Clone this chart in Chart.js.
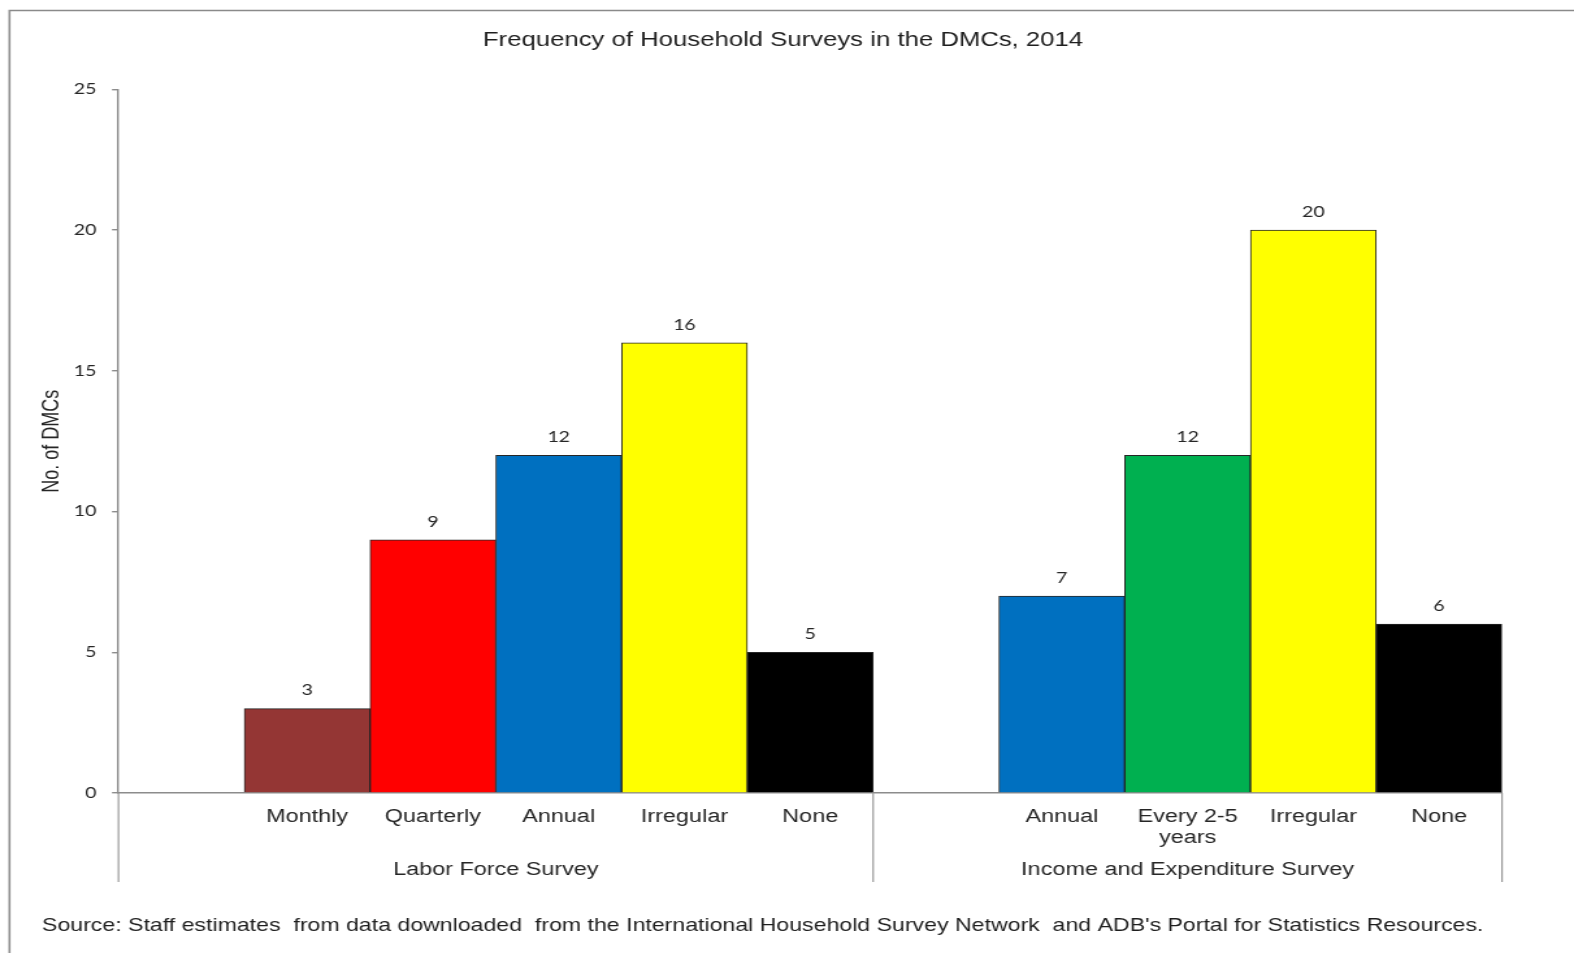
<!DOCTYPE html>
<html>
<head>
<meta charset="utf-8">
<title>Frequency of Household Surveys in the DMCs, 2014</title>
<script src="https://cdn.jsdelivr.net/npm/chart.js@4.4.1/dist/chart.umd.min.js"></script>
<style>
    html, body { margin: 0; padding: 0; background: #fff; overflow: hidden; }
    #chart { display: block; }
</style>
</head>
<body>
<!-- the reference is stretched sideways, so the canvas is drawn narrower and widened by its inline style -->
<canvas id="chart" width="1211" height="953" style="width:1574px;height:953px"></canvas>
<script>
// data
const categories = ['', 'Monthly', 'Quarterly', 'Annual', 'Irregular', 'None',
    '', 'Annual', ['Every 2-5', 'years'], 'Irregular', 'None'];
const values = [null, 3, 9, 12, 16, 5, null, 7, 12, 20, 6];
const barColors = ['#ffffff', '#943634', '#ff0000', '#0070c0', '#ffff00', '#000000',
    '#ffffff', '#0070c0', '#00b050', '#ffff00', '#000000'];
const groupNames = ['Labor Force Survey', 'Income and Expenditure Survey'];
const groupStart = [0, 6];
const groupEnd = [5, 10];
const yMin = 0;
const yMax = 25;
const yStep = 5;
const chartTitle = 'Frequency of Household Surveys in the DMCs, 2014';
const yTitle = 'No. of DMCs';
const sourceNote = "Source: Staff estimates  from data downloaded  from the International Household Survey Network  and ADB's Portal for Statistics Resources.";

const canvas = document.getElementById('chart');
const SX = 1574 / canvas.width; // horizontal stretch of the picture
const AXIS_BOTTOM = 793;

const extras = {
    id: 'extras',
    afterDraw(chart) {
        const ctx = chart.ctx;
        const x = chart.scales.x;
        const area = chart.chartArea;
        const half = (x.getPixelForValue(1) - x.getPixelForValue(0)) / 2;

        ctx.save();
        // outer frame
        ctx.strokeStyle = '#8a8a8a';
        ctx.lineWidth = 1.6;
        ctx.beginPath();
        ctx.moveTo(chart.width + 5, 10.5);
        ctx.lineTo(9.5 / SX, 10.5);
        ctx.lineTo(9.5 / SX, chart.height + 5);
        ctx.stroke();

        // title
        ctx.fillStyle = '#1e1e1e';
        ctx.font = '19.8px "Liberation Sans", Arial, sans-serif';
        ctx.textAlign = 'center';
        ctx.textBaseline = 'middle';
        ctx.fillText(chartTitle, 783 / SX, 41);

        // group separators and names
        ctx.strokeStyle = '#9a9a9a';
        ctx.lineWidth = 1.2;
        const edges = [x.getPixelForValue(0) - half];
        groupEnd.forEach(i => edges.push(x.getPixelForValue(i) + half));
        edges.forEach(px => {
            ctx.beginPath();
            ctx.moveTo(px, area.bottom);
            ctx.lineTo(px, 882);
            ctx.stroke();
        });
        ctx.fillStyle = '#262626';
        ctx.font = '18px "Liberation Sans", Arial, sans-serif';
        groupNames.forEach((name, g) => {
            const left = x.getPixelForValue(groupStart[g]) - half;
            const right = x.getPixelForValue(groupEnd[g]) + half;
            ctx.fillText(name, (left + right) / 2, 870);
        });

        // value labels
        ctx.font = '15px Lato, "Liberation Sans", sans-serif';
        ctx.fillStyle = '#262626';
        chart.getDatasetMeta(0).data.forEach((bar, i) => {
            if (values[i] === null) return;
            ctx.fillText(String(values[i]), bar.x, bar.y - 18);
        });

        // source
        ctx.textAlign = 'left';
        ctx.font = '17.8px "Liberation Sans", Arial, sans-serif';
        ctx.fillStyle = '#1e1e1e';
        ctx.fillText(sourceNote, 42 / SX, 926);
        ctx.restore();
    }
};

new Chart(canvas, {
    type: 'bar',
    data: {
        labels: categories,
        datasets: [{
            data: values,
            backgroundColor: barColors,
            borderColor: '#262626',
            borderWidth: 1,
            categoryPercentage: 1,
            barPercentage: 1
        }]
    },
    options: {
        responsive: false,
        animation: false,
        devicePixelRatio: 1,
        layout: {
            padding: { left: 0, right: canvas.width - 1502 / SX, top: 89.5, bottom: 0 }
        },
        plugins: {
            legend: { display: false },
            tooltip: { enabled: false },
            title: { display: false }
        },
        scales: {
            x: {
                grid: { display: false },
                border: { display: true, color: '#8c8c8c', width: 1.4 },
                ticks: {
                    color: '#262626',
                    padding: 5,
                    maxRotation: 0,
                    autoSkip: false,
                    font: { family: '"Liberation Sans", Arial, sans-serif', size: 18, lineHeight: 1.2 }
                },
                afterFit(scale) { scale.height = 953 - AXIS_BOTTOM; }
            },
            y: {
                min: yMin,
                max: yMax,
                ticks: {
                    stepSize: yStep,
                    color: '#262626',
                    padding: 12,
                    font: { family: 'Lato, "Liberation Sans", sans-serif', size: 15 }
                },
                grid: { drawOnChartArea: false, drawTicks: true, tickLength: 5, color: '#8c8c8c', lineWidth: 1.4 },
                border: { display: true, color: '#8c8c8c', width: 1.4 },
                title: {
                    display: true,
                    text: yTitle,
                    color: '#262626',
                    padding: { top: 29, bottom: 0 },
                    font: { family: '"Liberation Sans", Arial, sans-serif', size: 18 }
                },
                afterFit(scale) { scale.width = 118.5 / SX; }
            }
        }
    },
    plugins: [extras]
});
</script>
</body>
</html>
